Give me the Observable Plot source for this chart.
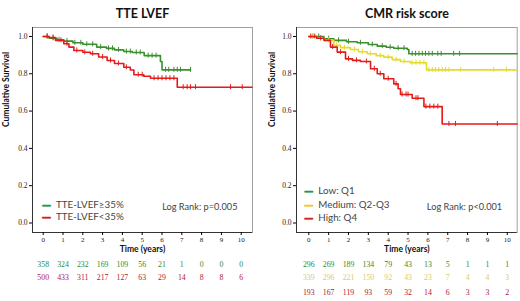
<!DOCTYPE html>
<html>
<head>
<meta charset="utf-8">
<script src="https://cdn.jsdelivr.net/npm/d3@7"></script>
<script src="https://cdn.jsdelivr.net/npm/@observablehq/plot@0.6"></script>
<style>
  html, body { margin: 0; padding: 0; background: #fff; }
  #wrap { position: relative; width: 520px; height: 301px; overflow: hidden; }
  #left, #right { position: absolute; top: 0; }
  #left { left: 0; }
  #right { left: 260px; }
</style>
</head>
<body>
<div id="wrap"><div id="left"></div><div id="right"></div></div>
<script>
// ---------- data ----------
const years = [0, 1, 2, 3, 4, 5, 6, 7, 8, 9, 10];
const yTicks = [0, 0.2, 0.4, 0.6, 0.8, 1.0];

// Left panel: TTE LVEF
const lvefHighT = [0, 0.3, 0.7, 1.04, 1.5, 2.0, 2.7, 3.2, 3.6, 4.07, 4.5, 5.1, 5.92, 6.0, 7.44];
const lvefHighS = [1.0, 0.99, 0.982, 0.975, 0.966, 0.958, 0.943, 0.936, 0.928, 0.919, 0.914, 0.897, 0.866, 0.821, 0.821];
const lvefHighCens = [0.2, 0.5, 0.8, 1.2, 1.6, 1.9, 2.2, 2.5, 2.9, 3.3, 3.5, 3.8, 4.2, 4.4, 4.7, 4.9, 5.3, 5.5, 5.7, 6.18, 6.34, 6.6, 6.77, 6.93, 7.44];
const lvefLowT = [0, 0.3, 0.62, 1.04, 1.3, 1.55, 2.0, 2.39, 2.8, 3.23, 3.6, 4.07, 4.4, 4.58, 5.08, 5.42, 6.77, 10.55];
const lvefLowS = [1.0, 0.994, 0.979, 0.961, 0.943, 0.925, 0.915, 0.907, 0.89, 0.871, 0.855, 0.835, 0.82, 0.795, 0.787, 0.776, 0.728, 0.728];
const lvefLowCens = [0.2, 0.5, 0.9, 1.2, 1.7, 2.1, 2.5, 3.0, 3.4, 3.8, 4.2, 4.8, 5.0, 5.6, 5.8, 6.0, 6.2, 6.4, 6.6, 7.07, 7.27, 7.44, 7.69, 9.46, 10.05];
const lvefHighRisk = [358, 324, 232, 169, 109, 56, 21, 1, 0, 0, 0];
const lvefLowRisk = [500, 433, 311, 217, 127, 63, 29, 14, 8, 8, 6];

// Right panel: CMR risk score
const cmrLowT = [0, 0.76, 1.26, 1.9, 2.44, 3.0, 3.45, 3.9, 4.28, 4.96, 5.04, 10.5];
const cmrLowS = [1.0, 0.988, 0.979, 0.972, 0.966, 0.957, 0.948, 0.942, 0.937, 0.930, 0.907, 0.907];
const cmrLowCens = [0.2, 0.5, 1.0, 1.5, 2.0, 2.6, 3.2, 3.7, 4.1, 4.5, 4.8, 5.21, 5.38, 5.55, 5.72, 5.88, 6.05, 6.22, 6.5, 6.67, 7.3, 7.6];
const cmrMedT = [0, 0.4, 0.76, 1.26, 1.6, 2.1, 2.5, 2.94, 3.4, 3.78, 4.2, 4.62, 5.1, 5.93, 10.5];
const cmrMedS = [1.0, 0.99, 0.979, 0.952, 0.94, 0.930, 0.918, 0.907, 0.897, 0.889, 0.876, 0.866, 0.859, 0.821, 0.821];
const cmrMedCens = [0.2, 0.6, 1.0, 1.4, 1.8, 2.3, 2.7, 3.1, 3.6, 4.0, 4.4, 4.8, 5.2, 5.4, 5.6, 5.8, 6.05, 6.22, 6.39, 6.55, 6.72, 6.89, 7.06, 7.65, 9.32, 9.96];
const cmrHighT = [0, 0.4, 0.76, 1.09, 1.43, 1.85, 2.2, 2.6, 3.11, 3.45, 3.78, 4.28, 4.5, 4.62, 5.21, 5.8, 6.72, 10.5];
const cmrHighS = [1.0, 0.99, 0.979, 0.943, 0.916, 0.88, 0.872, 0.866, 0.827, 0.8, 0.773, 0.746, 0.72, 0.689, 0.669, 0.624, 0.531, 0.531];
const cmrHighCens = [0.1, 0.3, 0.6, 1.2, 1.6, 2.0, 2.4, 2.9, 3.3, 3.6, 4.0, 4.4, 4.7, 4.9, 5.0, 5.4, 5.5, 5.9, 6.1, 6.3, 6.5, 7.06, 7.39, 9.5];
const cmrLowRisk = [296, 269, 189, 134, 79, 43, 13, 5, 1, 1, 1];
const cmrMedRisk = [339, 296, 221, 150, 92, 43, 23, 7, 4, 4, 3];
const cmrHighRisk = [193, 167, 119, 93, 59, 32, 14, 6, 3, 3, 2];

// ---------- helpers ----------
const toRows = (T, S) => T.map((t, i) => ({t, s: S[i]}));
function survAt(T, S, t) { let s = S[0]; for (let i = 0; i < T.length; i++) if (T[i] <= t) s = S[i]; return s; }
const cens = (T, S, C) => C.map(t => ({t, s: survAt(T, S, t)}));
const risk = (R) => years.map((y, i) => ({year: y, n: R[i]}));

const SANS = "Lato, 'Open Sans', sans-serif";
const SERIF = "'Liberation Serif', 'DejaVu Serif', serif";

function panel(cfg) {
  const marks = [
    Plot.frame({stroke: "#a0a0a0", strokeWidth: 1}),
    Plot.ruleX([cfg.xDomain[0]], {stroke: "#333"}),
    Plot.ruleY([cfg.yDomain[0]], {stroke: "#333"}),
    Plot.axisX({ticks: years, tickFormat: d3.format("d"), tickSize: 3, tickPadding: 1.5, label: null, fontFamily: SERIF, fontSize: 7, fill: "#222"}),
    Plot.axisY({ticks: yTicks, tickFormat: d3.format(".1f"), tickSize: 3, tickPadding: 2, label: null, fontFamily: SERIF, fontSize: 7.5, fill: "#222"}),
  ];
  for (const c of cfg.curves) {
    marks.push(Plot.line(toRows(c.T, c.S), {x: "t", y: "s", curve: "step-after", stroke: c.color, strokeWidth: 1.6}));
    marks.push(Plot.ruleX(cens(c.T, c.S, c.C), {x: "t", y1: "s", y2: "s", insetTop: -2.5, insetBottom: -2.5, stroke: c.color, strokeWidth: 1}));
  }
  // title
  marks.push(Plot.text([cfg.title], {frameAnchor: "top", dy: -18.5, text: d => d, fontFamily: SANS, fontWeight: "bold", fontSize: 12.5, fill: "#111"}));
  // axis titles
  marks.push(Plot.text(["Time (years)"], {frameAnchor: "bottom", dy: 19.5, text: d => d, fontFamily: SANS, fontWeight: "bold", fontSize: 8.5, fill: "#111"}));
  marks.push(Plot.text(["Cumulative Survival"], {frameAnchor: "left", dx: cfg.ylabDx, dy: -3, rotate: -90, text: d => d, fontFamily: SANS, fontWeight: "bold", fontSize: 8.5, fill: "#111"}));
  // legend
  cfg.legend.forEach((L, i) => {
    marks.push(Plot.text(["\u2014"], {frameAnchor: "bottom-left", dx: cfg.legDx, dy: L.dy, text: d => d, fill: L.color, fontWeight: "bold", fontSize: 9, fontFamily: "'DejaVu Sans', sans-serif", textAnchor: "middle", stroke: L.color, strokeWidth: 0.8}));
    marks.push(Plot.text([L.label], {frameAnchor: "bottom-left", dx: cfg.legDx + 9.5, dy: L.dy, text: d => d, fill: "#444", fontFamily: SANS, fontSize: 9.8, textAnchor: "start"}));
  });
  marks.push(Plot.text([cfg.logrank], {frameAnchor: "bottom-right", dx: -15, dy: -22.4, text: d => d, fill: "#444", fontFamily: SANS, fontSize: 9.2, textAnchor: "end"}));
  // numbers at risk
  cfg.risk.forEach(r => {
    marks.push(Plot.text(risk(r.R), {x: "year", text: "n", frameAnchor: "bottom", dy: r.dy, fill: r.color, fontFamily: SERIF, fontSize: 7.8}));
  });
  return Plot.plot({
    width: 260, height: 301,
    marginLeft: cfg.ml, marginRight: cfg.mr, marginTop: 27, marginBottom: 69,
    x: {domain: cfg.xDomain},
    y: {domain: cfg.yDomain},
    style: {background: "#fff", overflow: "visible"},
    marks
  });
}

document.getElementById("left").append(panel({
  title: "TTE LVEF",
  ml: 32, mr: 8,
  xDomain: [-0.54, 10.57], yDomain: [-0.051, 1.048],
  ylabDx: -26,
  curves: [
    {T: lvefHighT, S: lvefHighS, C: lvefHighCens, color: "#3a8f2e"},
    {T: lvefLowT, S: lvefLowS, C: lvefLowCens, color: "#e21b1b"}
  ],
  legDx: 14,
  legend: [
    {label: "TTE-LVEF\u226535%", color: "#1a9a50", dy: -24.4},
    {label: "TTE-LVEF<35%", color: "#d42020", dy: -12.4}
  ],
  logrank: "Log Rank: p=0.005",
  risk: [
    {R: lvefHighRisk, color: "#2e8b2e", dy: 34.3},
    {R: lvefLowRisk, color: "#b22030", dy: 47.6}
  ]
}));

document.getElementById("right").append(panel({
  title: "CMR risk score",
  ml: 36, mr: 3.3,
  xDomain: [-0.62, 10.5], yDomain: [-0.051, 1.048],
  ylabDx: -24,
  curves: [
    {T: cmrLowT, S: cmrLowS, C: cmrLowCens, color: "#3a8f2e"},
    {T: cmrMedT, S: cmrMedS, C: cmrMedCens, color: "#e4dc2a"},
    {T: cmrHighT, S: cmrHighS, C: cmrHighCens, color: "#e21b1b"}
  ],
  legDx: 12.3,
  legend: [
    {label: "Low: Q1", color: "#1a9a50", dy: -38.4},
    {label: "Medium: Q2-Q3", color: "#f0c828", dy: -25},
    {label: "High: Q4", color: "#d42020", dy: -11.7}
  ],
  logrank: "Log Rank: p<0.001",
  risk: [
    {R: cmrLowRisk, color: "#2e8b2e", dy: 34.3},
    {R: cmrMedRisk, color: "#e0c868", dy: 47.6},
    {R: cmrHighRisk, color: "#b22030", dy: 62.3}
  ]
}));
</script>
</body>
</html>
